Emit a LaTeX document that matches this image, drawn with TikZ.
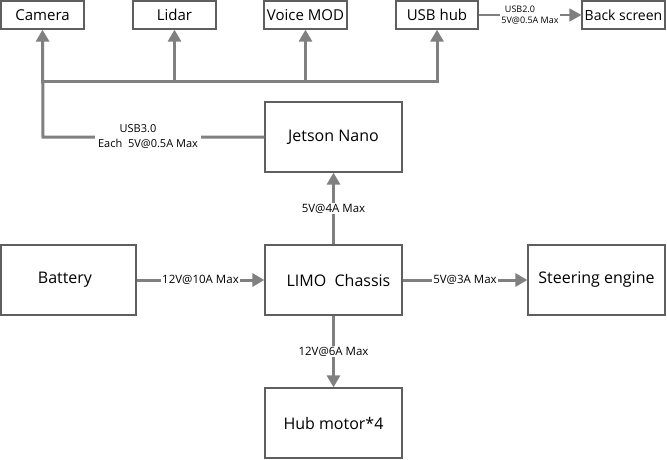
\documentclass[tikz,border=0pt]{standalone}
\usepackage{fontspec}
\setmainfont{Open Sans}
\usetikzlibrary{arrows.meta}
\definecolor{ln}{RGB}{128,128,128}
\definecolor{bx}{RGB}{95,95,95}
\tikzset{
  boxn/.style={draw=bx,line width=1.3pt,fill=white,inner sep=0pt,font=\fontsize{16}{19}\selectfont},
  topbox/.style={boxn,minimum height=28pt,font=\fontsize{15}{18}\selectfont},
  arr/.style={draw=ln,line width=3pt,-{Triangle[length=12pt,width=13pt]}},
  thinarr/.style={draw=ln,line width=1.8pt,-{Triangle[length=12pt,width=13pt]}},
  lbl/.style={fill=white,inner sep=1pt,font=\fontsize{11.5}{13}\selectfont,text=black},
  slbl/.style={fill=white,inner sep=1pt,font=\fontsize{9}{11}\selectfont,text=black,align=center},
}
\begin{document}
\begin{tikzpicture}[x=1pt,y=-1pt]
\useasboundingbox (0,0) rectangle (667,460);
% top row
\node[topbox,minimum width=83pt] (cam) at (42.5,15) {Camera};
\node[topbox,minimum width=83pt] (lid) at (174.5,15) {Lidar};
\node[topbox,minimum width=83pt] (voi) at (305.5,15) {Voice MOD};
\node[topbox,minimum width=82pt] (hub) at (437,15) {USB hub};
\node[topbox,minimum width=83pt,font=\fontsize{14}{17}\selectfont] (scr) at (623.5,15) {Back screen};
% main boxes
\node[boxn,minimum width=137pt,minimum height=70pt] (jet) at (333.5,137) {Jetson Nano};
\node[boxn,minimum width=137pt,minimum height=70pt] (limo) at (333.5,280) {\hspace*{10pt}LIMO\ \ Chassis};
\node[boxn,minimum width=135pt,minimum height=70pt] (bat) at (68.5,280) {\raisebox{4pt}{Battery}\hspace*{7pt}};
\node[boxn,minimum width=137pt,minimum height=70pt] (ste) at (596.5,280) {Steering engine};
\node[boxn,minimum width=137pt,minimum height=70pt] (mot) at (333.5,423) {Hub motor*4};
% bus
\coordinate (busL) at (43,82);
\coordinate (camK) at (43,137);
\draw[arr] (jet.west) -- (camK) -- (cam.south);
\node[slbl,font=\fontsize{11}{15}\selectfont,inner xsep=3pt] (u3) at (148,137) {USB3.0\hspace*{20pt}\\Each\ \ 5V@0.5A Max};
\draw[arr] (busL) -| (hub.south);
\draw[arr] (lid.south |- busL) -- (lid.south);
\draw[arr] (voi.south |- busL) -- (voi.south);
% usb hub to back screen
\draw[thinarr] (hub.east) -- (scr.west)
  node[pos=0.5,slbl] {USB2.0\hspace*{20pt}\\5V@0.5A Max};
% power
\draw[arr] (limo.north) -- (jet.south) node[midway,lbl] {5V@4A Max};
\draw[arr] (bat.east) -- (limo.west) node[midway,lbl] {12V@10A Max};
\draw[arr] (limo.east) -- (ste.west) node[midway,lbl] {5V@3A Max};
\draw[arr] (limo.south) -- (mot.north) node[midway,lbl] {12V@6A Max};
\end{tikzpicture}
\end{document}
